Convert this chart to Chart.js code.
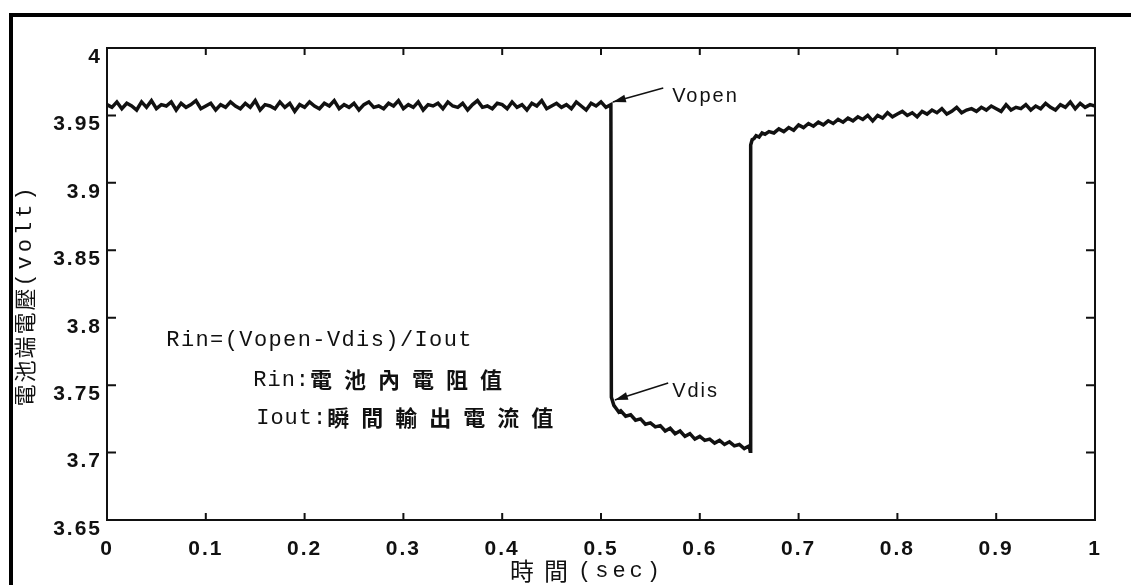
<!DOCTYPE html>
<html>
<head>
<meta charset="utf-8">
<script src="https://cdn.jsdelivr.net/npm/chart.js@4.4.0/dist/chart.umd.min.js"></script>
<style>
    body { margin: 0; background: #fff; }
    #frame { position: absolute; left: 9px; top: 13px; width: 1200px; height: 700px; border-left: 4px solid #000; border-top: 4px solid #000; }
    #c { position: absolute; left: 0; top: 0; }
</style>
</head>
<body>
<div id="frame"></div>
<canvas id="c" width="1131" height="585"></canvas>
<script>
// open circuit, before the load is switched on
const openTime = [0, 0.005, 0.01, 0.015, 0.02, 0.025, 0.03, 0.035, 0.04, 0.045,
    0.05, 0.055, 0.06, 0.065, 0.07, 0.075, 0.08, 0.085, 0.09, 0.095,
    0.10, 0.105, 0.11, 0.115, 0.12, 0.125, 0.13, 0.135, 0.14, 0.145,
    0.15, 0.155, 0.16, 0.165, 0.17, 0.175, 0.18, 0.185, 0.19, 0.195,
    0.20, 0.205, 0.21, 0.215, 0.22, 0.225, 0.23, 0.235, 0.24, 0.245,
    0.25, 0.255, 0.26, 0.265, 0.27, 0.275, 0.28, 0.285, 0.29, 0.295,
    0.30, 0.305, 0.31, 0.315, 0.32, 0.325, 0.33, 0.335, 0.34, 0.345,
    0.35, 0.355, 0.36, 0.365, 0.37, 0.375, 0.38, 0.385, 0.39, 0.395,
    0.40, 0.405, 0.41, 0.415, 0.42, 0.425, 0.43, 0.435, 0.44, 0.445,
    0.45, 0.455, 0.46, 0.465, 0.47, 0.475, 0.48, 0.485, 0.49, 0.495,
    0.50, 0.505, 0.51]
const openVolt = [3.958, 3.956, 3.960, 3.955, 3.959, 3.957, 3.954, 3.960, 3.956, 3.961,
    3.955, 3.958, 3.957, 3.960, 3.954, 3.959, 3.956, 3.958, 3.961, 3.955,
    3.957, 3.959, 3.954, 3.958, 3.956, 3.960, 3.957, 3.955, 3.959, 3.956,
    3.961, 3.954, 3.958, 3.957, 3.955, 3.960, 3.956, 3.959, 3.953, 3.958,
    3.956, 3.960, 3.957, 3.955, 3.959, 3.957, 3.961, 3.955, 3.958, 3.956,
    3.959, 3.954, 3.958, 3.960, 3.956, 3.957, 3.955, 3.959, 3.957, 3.961,
    3.955, 3.958, 3.956, 3.960, 3.954, 3.958, 3.957, 3.959, 3.955, 3.960,
    3.957, 3.956, 3.959, 3.954, 3.958, 3.961, 3.956, 3.957, 3.955, 3.959,
    3.958, 3.955, 3.960, 3.956, 3.958, 3.954, 3.959, 3.957, 3.961, 3.955,
    3.957, 3.959, 3.956, 3.958, 3.955, 3.960, 3.957, 3.954, 3.959, 3.957,
    3.960, 3.956, 3.958]
// discharging
const disTime = [0.5105, 0.513, 0.515, 0.518, 0.52, 0.525, 0.53, 0.535, 0.54, 0.545,
    0.55, 0.555, 0.56, 0.565, 0.57, 0.575, 0.58, 0.585, 0.59, 0.595,
    0.60, 0.605, 0.61, 0.615, 0.62, 0.625, 0.63, 0.635, 0.64, 0.645,
    0.65, 0.651]
const disVolt = [3.741, 3.735, 3.733, 3.730, 3.731, 3.727, 3.728, 3.724, 3.725, 3.721,
    3.722, 3.719, 3.720, 3.716, 3.718, 3.714, 3.716, 3.712, 3.714, 3.710,
    3.712, 3.709, 3.710, 3.707, 3.709, 3.706, 3.708, 3.705, 3.706, 3.703,
    3.705, 3.701]
// recovery after the load is removed
const recTime = [0.6515, 0.653, 0.655, 0.657, 0.66, 0.663, 0.666, 0.67, 0.675,
    0.68, 0.685, 0.69, 0.695, 0.70, 0.705, 0.71, 0.715, 0.72, 0.725,
    0.73, 0.735, 0.74, 0.745, 0.75, 0.755, 0.76, 0.765, 0.77, 0.775,
    0.78, 0.785, 0.79, 0.795, 0.80, 0.805, 0.81, 0.815, 0.82, 0.825,
    0.83, 0.835, 0.84, 0.845, 0.85, 0.855, 0.86, 0.865, 0.87, 0.875,
    0.88, 0.885, 0.89, 0.895, 0.90, 0.905, 0.91, 0.915, 0.92, 0.925,
    0.93, 0.935, 0.94, 0.945, 0.95, 0.955, 0.96, 0.965, 0.97, 0.975,
    0.98, 0.985, 0.99, 0.995, 1.00]
const recVolt = [3.928, 3.932, 3.933, 3.935, 3.934, 3.937, 3.936, 3.938, 3.937,
    3.940, 3.938, 3.941, 3.939, 3.943, 3.941, 3.944, 3.942, 3.945, 3.943,
    3.946, 3.944, 3.947, 3.945, 3.948, 3.946, 3.949, 3.947, 3.950, 3.946,
    3.950, 3.948, 3.952, 3.949, 3.951, 3.953, 3.950, 3.952, 3.949, 3.953,
    3.951, 3.954, 3.952, 3.955, 3.951, 3.953, 3.956, 3.952, 3.954, 3.955,
    3.953, 3.956, 3.954, 3.957, 3.955, 3.953, 3.958, 3.954, 3.956, 3.955,
    3.958, 3.954, 3.957, 3.955, 3.959, 3.956, 3.954, 3.958, 3.956, 3.960,
    3.955, 3.959, 3.956, 3.958, 3.957]

const xTicks = [0, 0.1, 0.2, 0.3, 0.4, 0.5, 0.6, 0.7, 0.8, 0.9, 1]
const yTicks = [3.65, 3.7, 3.75, 3.8, 3.85, 3.9, 3.95, 4]

const time = openTime.concat(disTime, recTime)
const volt = openVolt.concat(disVolt, recVolt)

const LATIN = '"Liberation Mono", monospace'
const CJK = '"Noto Sans CJK TC", sans-serif'

// draw a row of text pieces, each with its own font and letter spacing
function drawRuns(ctx, x, y, runs) {
    let cx = x
    runs.forEach(r => {
        ctx.font = r.font
        ctx.letterSpacing = r.sp + 'px'
        ctx.fillText(r.text, cx, y)
        cx += ctx.measureText(r.text).width
    })
}
function runsWidth(ctx, runs) {
    let w = 0
    runs.forEach(r => {
        ctx.font = r.font
        ctx.letterSpacing = r.sp + 'px'
        w += ctx.measureText(r.text).width
    })
    return w
}
function arrow(ctx, x1, y1, x2, y2) {
    const a = Math.atan2(y2 - y1, x2 - x1)
    ctx.beginPath()
    ctx.moveTo(x1, y1); ctx.lineTo(x2, y2)
    ctx.stroke()
    ctx.beginPath()
    ctx.moveTo(x2, y2)
    ctx.lineTo(x2 - 13 * Math.cos(a) + 4 * Math.sin(a), y2 - 13 * Math.sin(a) - 4 * Math.cos(a))
    ctx.lineTo(x2 - 13 * Math.cos(a) - 4 * Math.sin(a), y2 - 13 * Math.sin(a) + 4 * Math.cos(a))
    ctx.closePath()
    ctx.fill()
}

const boxPlugin = {
    id: 'box',
    beforeDraw(chart) {
        chart.ctx.letterSpacing = '2px'
    },
    afterDraw(chart) {
        const { ctx, chartArea: a, scales: { x, y } } = chart
        const px = (t, v) => [x.getPixelForValue(t), y.getPixelForValue(v)]
        ctx.save()
        ctx.strokeStyle = '#111'
        ctx.fillStyle = '#111'
        ctx.lineWidth = 2
        ctx.strokeRect(a.left, a.top, a.right - a.left, a.bottom - a.top)
        // inward ticks on all four sides
        ctx.beginPath()
        xTicks.forEach(t => {
            const p = x.getPixelForValue(t)
            ctx.moveTo(p, a.bottom); ctx.lineTo(p, a.bottom - 7)
            ctx.moveTo(p, a.top); ctx.lineTo(p, a.top + 7)
        })
        yTicks.forEach(v => {
            const p = y.getPixelForValue(v)
            ctx.moveTo(a.left, p); ctx.lineTo(a.left + 9, p)
            ctx.moveTo(a.right, p); ctx.lineTo(a.right - 9, p)
        })
        ctx.stroke()

        // arrows + labels
        ctx.lineWidth = 1.5
        arrow(ctx, ...px(0.563, 3.9703), ...px(0.512, 3.960))
        arrow(ctx, ...px(0.568, 3.7516), ...px(0.514, 3.739))
        ctx.textBaseline = 'middle'
        ctx.textAlign = 'left'
        let [tx, ty] = px(0.572, 3.9644)
        drawRuns(ctx, tx, ty, [{ text: 'Vopen', font: '20px "Liberation Sans"', sp: 2 }]);
        [tx, ty] = px(0.572, 3.745)
        drawRuns(ctx, tx, ty, [{ text: 'Vdis', font: '20px "Liberation Sans"', sp: 2 }]);

        [tx, ty] = px(0.06, 3.7835)
        drawRuns(ctx, tx, ty, [{ text: 'Rin=(Vopen-Vdis)/Iout', font: '22px ' + LATIN, sp: 1.4 }]);
        [tx, ty] = px(0.148, 3.7538)
        drawRuns(ctx, tx, ty, [
            { text: 'Rin:', font: '22px ' + LATIN, sp: 1 },
            { text: '電池內電阻值', font: 'bold 22px ' + CJK, sp: 12 }
        ]);
        [tx, ty] = px(0.151, 3.7256)
        drawRuns(ctx, tx, ty, [
            { text: 'Iout:', font: '22px ' + LATIN, sp: 1 },
            { text: '瞬間輸出電流值', font: 'bold 22px ' + CJK, sp: 12 }
        ])

        // axis titles
        const xt = [
            { text: '時間', font: '24px ' + CJK, sp: 10 },
            { text: '(sec)', font: '22px ' + LATIN, sp: 4 }
        ]
        const xw = runsWidth(ctx, xt)
        drawRuns(ctx, (a.left + a.right) / 2 - 14 - xw / 2, 571, xt)

        const yt = [
            { text: '電池端電壓', font: '22px ' + CJK, sp: 2 },
            { text: '(volt)', font: '22px ' + LATIN, sp: 4 }
        ]
        const yw = runsWidth(ctx, yt)
        ctx.translate(25, (a.top + a.bottom) / 2 + 11)
        ctx.rotate(-Math.PI / 2)
        drawRuns(ctx, -yw / 2, 0, yt)
        ctx.restore()
    }
}

const tickFont = { family: '"Liberation Sans"', size: 21, weight: 'bold' }

new Chart(document.getElementById('c'), {
    type: 'line',
    data: {
        datasets: [{
            data: time.map((t, i) => ({ x: t, y: volt[i] })),
            borderColor: '#111',
            borderWidth: 3.5,
            pointRadius: 0,
            tension: 0,
            fill: false
        }]
    },
    options: {
        responsive: false,
        animation: false,
        devicePixelRatio: 1,
        layout: { padding: { top: 48, right: 36, left: 0, bottom: 0 } },
        plugins: { legend: { display: false }, tooltip: { enabled: false } },
        scales: {
            x: {
                type: 'linear',
                min: 0,
                max: 1,
                afterFit: s => { s.height = 65 },
                afterBuildTicks: s => { s.ticks = xTicks.map(v => ({ value: v })) },
                ticks: { color: '#111', font: tickFont, padding: 9, maxRotation: 0, callback: v => String(v) },
                grid: { display: false },
                border: { display: false }
            },
            y: {
                min: 3.65,
                max: 4,
                afterFit: s => { s.width = 107 },
                afterBuildTicks: s => { s.ticks = yTicks.map(v => ({ value: v })) },
                ticks: { color: '#111', font: tickFont, padding: 5, labelOffset: 9, callback: v => String(v) },
                grid: { display: false, drawTicks: false },
                border: { display: false }
            }
        }
    },
    plugins: [boxPlugin]
})
</script>
</body>
</html>
